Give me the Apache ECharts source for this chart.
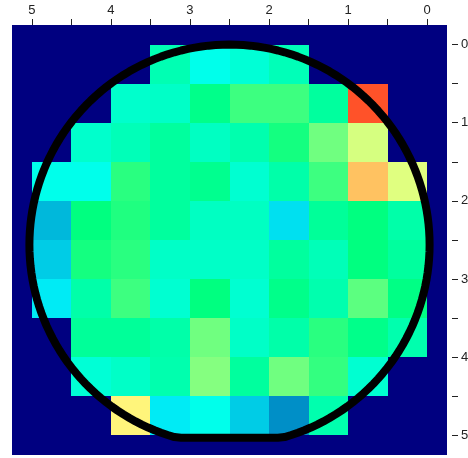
<!DOCTYPE html>
<html>
<head>
<meta charset="utf-8">
<title>wafer map</title>
<script src="https://cdn.jsdelivr.net/npm/echarts@6.0.0/dist/echarts.min.js"></script>
<style>
  html, body { margin: 0; padding: 0; background: #fff; }
  #chart { width: 468px; height: 458px; }
</style>
</head>
<body>
<div id="chart"></div>
<script>
// cell centres, in the order they are drawn (left to right, top to bottom)
const xCells = [4.75, 4.25, 3.75, 3.25, 2.75, 2.25, 1.75, 1.25, 0.75, 0.25];
const yCells = [0.25, 0.75, 1.25, 1.75, 2.25, 2.75, 3.25, 3.75, 4.25, 4.75];
const cellSize = 0.5;

// measured values per row, null = no die there
const row0 = [null, null, null, 0.40, 0.29, 0.33, 0.39, null, null, null];
const row1 = [null, null, 0.35, 0.36, 0.48, 0.56, 0.56, 0.44, 0.92, null];
const row2 = [null, 0.35, 0.39, 0.44, 0.37, 0.41, 0.52, 0.61, 0.71, null];
const row3 = [0.29, 0.29, 0.54, 0.44, 0.47, 0.34, 0.42, 0.56, 0.81, 0.72];
const row4 = [0.18, 0.50, 0.53, 0.44, 0.37, 0.37, 0.22, 0.45, 0.50, 0.42];
const row5 = [0.20, 0.52, 0.54, 0.36, 0.36, 0.36, 0.44, 0.39, 0.50, 0.44];
const row6 = [0.23, 0.42, 0.56, 0.34, 0.50, 0.34, 0.48, 0.41, 0.59, 0.49];
const row7 = [null, 0.45, 0.45, 0.42, 0.61, 0.36, 0.42, 0.54, 0.48, 0.41];
const row8 = [null, 0.33, 0.36, 0.41, 0.63, 0.44, 0.61, 0.55, 0.34, null];
const row9 = [null, null, 0.76, 0.23, 0.29, 0.20, 0.14, 0.41, null, null];
const rows = [row0, row1, row2, row3, row4, row5, row6, row7, row8, row9];

const tickValues = [0, 0.5, 1, 1.5, 2, 2.5, 3, 3.5, 4, 4.5, 5];
const labelValues = [0, 1, 2, 3, 4, 5];

// wafer outline (ellipse with a flat at the bottom)
const waferCenter = [2.5, 2.56];
const waferRadius = [2.53, 2.56];
const waferFlatY = 5.03;

const palette = ['#000080', '#00ffff', '#00ff80', '#ffff80', '#ff0000'];

const cells = [];
rows.forEach((row, r) => {
  row.forEach((v, c) => {
    if (v !== null) cells.push([xCells[c], yCells[r], v]);
  });
});

const outline = [];
for (let a = 0; a <= 360; a += 2) {
  const t = a * Math.PI / 180;
  outline.push([
    waferCenter[0] + waferRadius[0] * Math.cos(t),
    Math.min(waferCenter[1] + waferRadius[1] * Math.sin(t), waferFlatY)
  ]);
}

const axisFont = { fontFamily: 'Liberation Sans, Arial, sans-serif', fontSize: 13, color: '#222' };

const chart = echarts.init(document.getElementById('chart'));
chart.setOption({
  animation: false,
  grid: {
    left: 12, right: 21, top: 25, bottom: 3,
    outerBoundsMode: 'none', // keep the plot where it is, labels may sit at the edge
    show: true,
    backgroundColor: '#000080',
    borderWidth: 0
  },
  xAxis: {
    type: 'value',
    position: 'top',
    inverse: true,
    min: -0.25,
    max: 5.25,
    axisLine: { show: false, onZero: false },
    axisTick: { show: true, inside: false, length: 6, customValues: tickValues, lineStyle: { color: '#222' } },
    axisLabel: Object.assign({ customValues: labelValues, margin: 8 }, axisFont),
    splitLine: { show: false }
  },
  yAxis: {
    type: 'value',
    position: 'right',
    inverse: true,
    offset: 5,
    min: -0.25,
    max: 5.25,
    axisLine: { show: false, onZero: false },
    axisTick: { show: true, inside: false, length: 6, customValues: tickValues, lineStyle: { color: '#222' } },
    axisLabel: Object.assign({ customValues: labelValues, margin: 9 }, axisFont),
    splitLine: { show: false }
  },
  visualMap: {
    show: false,
    seriesIndex: 0,
    dimension: 2,
    min: 0,
    max: 1,
    inRange: { color: palette }
  },
  series: [
    {
      type: 'custom',
      data: cells,
      encode: { x: 0, y: 1 },
      renderItem: function (params, api) {
        const x = api.value(0);
        const y = api.value(1);
        const p0 = api.coord([x + cellSize / 2, y - cellSize / 2]);
        const p1 = api.coord([x - cellSize / 2, y + cellSize / 2]);
        const x0 = Math.round(Math.min(p0[0], p1[0]));
        const y0 = Math.round(Math.min(p0[1], p1[1]));
        const x1 = Math.round(Math.max(p0[0], p1[0]));
        const y1 = Math.round(Math.max(p0[1], p1[1]));
        return {
          type: 'rect',
          shape: { x: x0, y: y0, width: x1 - x0, height: y1 - y0 },
          style: { fill: api.visual('color') }
        };
      }
    },
    {
      type: 'line',
      data: outline,
      symbol: 'none',
      silent: true,
      z: 5,
      lineStyle: { color: '#000', width: 8, join: 'round', cap: 'round' }
    }
  ]
});
</script>
</body>
</html>
